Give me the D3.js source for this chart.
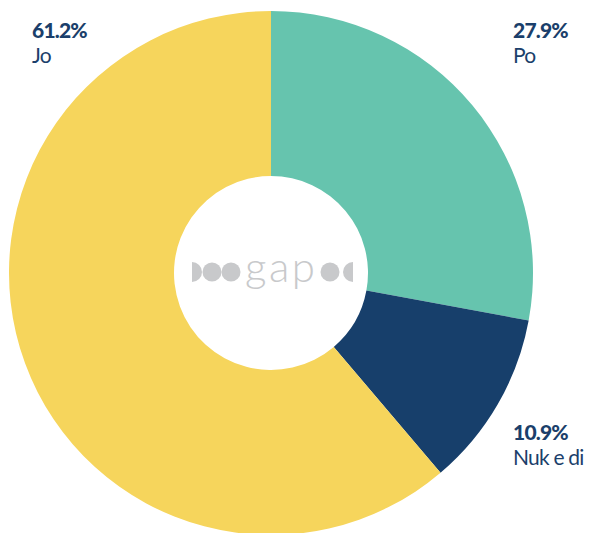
<!DOCTYPE html>
<html>
<head>
<meta charset="utf-8">
<title>Donut</title>
<script src="https://d3js.org/d3.v7.min.js"></script>
<style>
  html, body { margin: 0; padding: 0; background: #fff; }
  .lbl { font-family: Lato, "Noto Sans", sans-serif; fill: #1b3f6b; letter-spacing: -0.8px; font-size: 21px; }
  .pct { font-weight: 900; }
  .cat { font-weight: 400; }
</style>
</head>
<body>
<script>
// data
const categories = ["Po", "Nuk e di", "Jo"];
const values = [27.9, 10.9, 61.2];
const colors = ["#66c4ae", "#173f6b", "#f6d55c"];

const W = 593, H = 533;
const cx = 271, cy = 273, R = 262, r = 97;

const svg = d3.select("body").append("svg")
  .attr("width", W).attr("height", H);

const pie = d3.pie().sort(null).value(d => d)(values);
const arc = d3.arc().innerRadius(r).outerRadius(R);

const g = svg.append("g").attr("transform", `translate(${cx},${cy})`);
g.selectAll("path").data(pie).join("path")
  .attr("d", arc)
  .attr("fill", (d, i) => colors[i]);

// labels
const labelPos = [[513, 38], [513, 440], [32, 38]];
categories.forEach((c, i) => {
  svg.append("text").attr("class", "lbl pct")
    .attr("x", labelPos[i][0]).attr("y", labelPos[i][1])
    .text(values[i].toFixed(1) + "%");
  svg.append("text").attr("class", "lbl cat")
    .attr("x", labelPos[i][0]).attr("y", labelPos[i][1] + 25)
    .text(c);
});

// logo in the hole
const logo = svg.append("g").attr("fill", "#c8c9cb");
logo.append("path").attr("d", d3.arc()({innerRadius: 0, outerRadius: 10, startAngle: 0, endAngle: Math.PI})).attr("transform", "translate(192,272)");
logo.append("circle").attr("cx", 212).attr("cy", 272).attr("r", 9.5);
logo.append("circle").attr("cx", 231).attr("cy", 272).attr("r", 9.5);
logo.append("text").attr("x", 245).attr("y", 282)
  .attr("textLength", 70).attr("lengthAdjust", "spacing")
  .style("font-family", "Lato, sans-serif").style("font-weight", 300)
  .style("font-size", "42px").text("gap");
logo.append("circle").attr("cx", 330).attr("cy", 272).attr("r", 9.5);
logo.append("path").attr("d", d3.arc()({innerRadius: 0, outerRadius: 10, startAngle: Math.PI, endAngle: 2 * Math.PI})).attr("transform", "translate(353,272)");
</script>
</body>
</html>
